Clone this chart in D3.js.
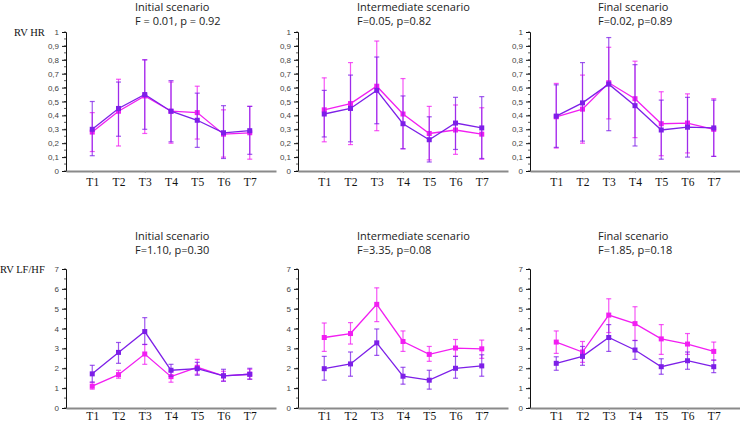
<!DOCTYPE html>
<html>
<head>
<meta charset="utf-8">
<script src="https://cdn.jsdelivr.net/npm/d3@7"></script>
<style>
  body { margin: 0; background: #fff; }
  svg { display: block; }
  .title { font-family: "Open Sans", "Noto Sans", sans-serif; font-size: 11px; fill: #222; }
  .rowlab { font-family: "Liberation Serif", "DejaVu Serif", serif; font-size: 10.5px; fill: #111; }
  .ytick text { font-family: "Liberation Sans", Arial, sans-serif; font-size: 8px; fill: #444; }
  .xtick text { font-family: "Liberation Serif", serif; font-size: 11.5px; fill: #111; }
</style>
</head>
<body>
<div id="chart"></div>
<script>
var width = 740, height = 422;

var times = ["T1", "T2", "T3", "T4", "T5", "T6", "T7"];
var hrTicks = [0, 0.1, 0.2, 0.3, 0.4, 0.5, 0.6, 0.7, 0.8, 0.9, 1];
var lfTicks = [0, 1, 2, 3, 4, 5, 6, 7];

// RV HR - initial
var hrInitPurple     = [0.30, 0.45, 0.55, 0.43, 0.365, 0.275, 0.29];
var hrInitPurpleLo   = [0.11, 0.25, 0.30, 0.21, 0.17, 0.09, 0.12];
var hrInitPurpleHi   = [0.50, 0.64, 0.80, 0.65, 0.56, 0.47, 0.465];
var hrInitMagenta    = [0.28, 0.43, 0.54, 0.43, 0.42, 0.265, 0.275];
var hrInitMagentaLo  = [0.14, 0.18, 0.27, 0.20, 0.23, 0.10, 0.085];
var hrInitMagentaHi  = [0.42, 0.66, 0.80, 0.64, 0.61, 0.44, 0.465];

// RV HR - intermediate
var hrMidPurple      = [0.41, 0.45, 0.58, 0.34, 0.225, 0.345, 0.31];
var hrMidPurpleLo    = [0.245, 0.21, 0.34, 0.16, 0.065, 0.155, 0.09];
var hrMidPurpleHi    = [0.58, 0.69, 0.82, 0.54, 0.39, 0.53, 0.535];
var hrMidMagenta     = [0.44, 0.485, 0.61, 0.41, 0.27, 0.295, 0.265];
var hrMidMagentaLo   = [0.21, 0.19, 0.29, 0.16, 0.08, 0.12, 0.085];
var hrMidMagentaHi   = [0.67, 0.78, 0.935, 0.665, 0.465, 0.475, 0.455];

// RV HR - final
var hrFinPurple      = [0.395, 0.49, 0.625, 0.47, 0.295, 0.315, 0.31];
var hrFinPurpleLo    = [0.17, 0.215, 0.29, 0.18, 0.085, 0.10, 0.105];
var hrFinPurpleHi    = [0.62, 0.78, 0.96, 0.765, 0.51, 0.53, 0.51];
var hrFinMagenta     = [0.39, 0.445, 0.635, 0.52, 0.34, 0.345, 0.30];
var hrFinMagentaLo   = [0.165, 0.20, 0.375, 0.24, 0.11, 0.13, 0.105];
var hrFinMagentaHi   = [0.63, 0.69, 0.89, 0.79, 0.57, 0.555, 0.52];

// RV LF/HF - initial
var lfInitPurple     = [1.72, 2.80, 3.85, 1.90, 1.98, 1.62, 1.70];
var lfInitPurpleLo   = [1.30, 2.25, 3.20, 1.60, 1.65, 1.35, 1.45];
var lfInitPurpleHi   = [2.15, 3.30, 4.55, 2.20, 2.30, 1.95, 2.00];
var lfInitMagenta    = [1.10, 1.68, 2.72, 1.58, 2.05, 1.62, 1.70];
var lfInitMagentaLo  = [0.95, 1.50, 2.20, 1.30, 1.70, 1.35, 1.45];
var lfInitMagentaHi  = [1.30, 1.90, 3.20, 1.85, 2.45, 1.85, 1.95];

// RV LF/HF - intermediate
var lfMidPurple      = [1.98, 2.22, 3.28, 1.60, 1.40, 2.00, 2.12];
var lfMidPurpleLo    = [1.40, 1.60, 2.65, 1.20, 0.95, 1.50, 1.60];
var lfMidPurpleHi    = [2.60, 2.82, 3.98, 2.05, 1.90, 2.60, 2.68];
var lfMidMagenta     = [3.55, 3.75, 5.22, 3.35, 2.70, 3.02, 2.98];
var lfMidMagentaLo   = [2.85, 3.22, 4.35, 2.85, 2.35, 2.60, 2.50];
var lfMidMagentaHi   = [4.28, 4.30, 6.05, 3.88, 3.10, 3.45, 3.42];

// RV LF/HF - final
var lfFinPurple      = [2.25, 2.60, 3.55, 2.92, 2.08, 2.38, 2.08];
var lfFinPurpleLo    = [1.90, 2.15, 2.85, 2.45, 1.70, 1.95, 1.78];
var lfFinPurpleHi    = [2.58, 3.10, 4.20, 3.40, 2.48, 2.82, 2.42];
var lfFinMagenta     = [3.32, 2.82, 4.68, 4.25, 3.48, 3.22, 2.85];
var lfFinMagentaLo   = [2.75, 2.30, 3.80, 3.40, 2.70, 2.70, 2.40];
var lfFinMagentaHi   = [3.88, 3.35, 5.50, 5.10, 4.20, 3.75, 3.32];

var purple = "#7d1fe8", magenta = "#f21ef2";

var svg = d3.select("#chart").append("svg")
    .attr("width", width)
    .attr("height", height);

function fmt(d) { return String(d).replace(".", ","); }

function zip(mean, lo, hi) {
    return mean.map(function(m, i) { return {t: times[i], m: m, lo: lo[i], hi: hi[i]}; });
}

var panels = [
    {x0: 66,  top: 32,  bottom: 171, max: 1, ticks: hrTicks, minor: 0.05, title: "Initial scenario", sub: "F = 0.01, p = 0.92", tx: 135, ty: 11,
     purple: zip(hrInitPurple, hrInitPurpleLo, hrInitPurpleHi), magenta: zip(hrInitMagenta, hrInitMagentaLo, hrInitMagentaHi)},
    {x0: 298, top: 32,  bottom: 171, max: 1, ticks: hrTicks, minor: 0.05, title: "Intermediate scenario", sub: "F=0.05, p=0.82", tx: 357, ty: 11,
     purple: zip(hrMidPurple, hrMidPurpleLo, hrMidPurpleHi), magenta: zip(hrMidMagenta, hrMidMagentaLo, hrMidMagentaHi)},
    {x0: 530, top: 32,  bottom: 171, max: 1, ticks: hrTicks, minor: 0.05, title: "Final scenario", sub: "F=0.02, p=0.89", tx: 598, ty: 11,
     purple: zip(hrFinPurple, hrFinPurpleLo, hrFinPurpleHi), magenta: zip(hrFinMagenta, hrFinMagentaLo, hrFinMagentaHi)},
    {x0: 66,  top: 269, bottom: 408, max: 7, ticks: lfTicks, minor: 0.5, title: "Initial scenario", sub: "F=1.10, p=0.30", tx: 135, ty: 240,
     purple: zip(lfInitPurple, lfInitPurpleLo, lfInitPurpleHi), magenta: zip(lfInitMagenta, lfInitMagentaLo, lfInitMagentaHi)},
    {x0: 298, top: 269, bottom: 408, max: 7, ticks: lfTicks, minor: 0.5, title: "Intermediate scenario", sub: "F=3.35, p=0.08", tx: 357, ty: 240,
     purple: zip(lfMidPurple, lfMidPurpleLo, lfMidPurpleHi), magenta: zip(lfMidMagenta, lfMidMagentaLo, lfMidMagentaHi)},
    {x0: 530, top: 269, bottom: 408, max: 7, ticks: lfTicks, minor: 0.5, title: "Final scenario", sub: "F=1.85, p=0.18", tx: 598, ty: 240,
     purple: zip(lfFinPurple, lfFinPurpleLo, lfFinPurpleHi), magenta: zip(lfFinMagenta, lfFinMagentaLo, lfFinMagentaHi)}
];

// row labels
svg.append("text").attr("class", "rowlab").attr("x", 14).attr("y", 36).text("RV HR");
svg.append("text").attr("class", "rowlab").attr("x", 0).attr("y", 273).text("RV LF/HF");

panels.forEach(function(p) {
    var x = d3.scalePoint().domain(times).range([p.x0, p.x0 + 210]).padding(1);
    var y = d3.scaleLinear().domain([0, p.max]).range([p.bottom, p.top]);

    var g = svg.append("g");

    // titles
    g.append("text").attr("class", "title").attr("x", p.tx).attr("y", p.ty).text(p.title);
    g.append("text").attr("class", "title").attr("x", p.tx).attr("y", p.ty + 14).text(p.sub);

    // minor ticks
    var minors = d3.range(0, p.max + 1e-9, p.minor);
    g.append("g").selectAll("line").data(minors).enter().append("line")
        .attr("x1", p.x0 - 2).attr("x2", p.x0)
        .attr("y1", function(d) { return y(d); })
        .attr("y2", function(d) { return y(d); })
        .attr("stroke", "#333").attr("stroke-width", 0.8);

    // y axis
    var ya = g.append("g").attr("class", "ytick")
        .attr("transform", "translate(" + p.x0 + ",0)")
        .call(d3.axisLeft(y).tickValues(p.ticks).tickSize(4).tickPadding(3).tickFormat(fmt));
    ya.select(".domain").attr("stroke", "#111");
    ya.selectAll(".tick line").attr("stroke", "#111");

    // x axis
    var xa = g.append("g").attr("class", "xtick")
        .attr("transform", "translate(0," + p.bottom + ")")
        .call(d3.axisBottom(x).tickSize(2).tickPadding(p.max > 1 ? 2 : 5).tickSizeOuter(0));
    xa.select(".domain").attr("stroke", "#8a8a8a").attr("stroke-width", 2);
    xa.selectAll(".tick line").attr("stroke", "#999");

    [["magenta", magenta], ["purple", purple]].forEach(function(s) {
        var data = p[s[0]], col = s[1];

        // error bars
        var eb = g.append("g").attr("stroke", col).attr("stroke-opacity", 0.75).attr("stroke-width", 1.2);
        eb.selectAll(".v").data(data).enter().append("line")
            .attr("x1", function(d) { return x(d.t); }).attr("x2", function(d) { return x(d.t); })
            .attr("y1", function(d) { return y(d.lo); }).attr("y2", function(d) { return y(d.hi); });
        eb.selectAll(".lo").data(data).enter().append("line")
            .attr("x1", function(d) { return x(d.t) - 2.5; }).attr("x2", function(d) { return x(d.t) + 2.5; })
            .attr("y1", function(d) { return y(d.lo); }).attr("y2", function(d) { return y(d.lo); });
        eb.selectAll(".hi").data(data).enter().append("line")
            .attr("x1", function(d) { return x(d.t) - 2.5; }).attr("x2", function(d) { return x(d.t) + 2.5; })
            .attr("y1", function(d) { return y(d.hi); }).attr("y2", function(d) { return y(d.hi); });

        var line = d3.line()
            .x(function(d) { return x(d.t); })
            .y(function(d) { return y(d.m); });

        g.append("path")
            .attr("d", line(data))
            .attr("fill", "none")
            .attr("stroke", col)
            .attr("stroke-width", 1.3);

        g.selectAll(".pt").data(data).enter().append("rect")
            .attr("x", function(d) { return x(d.t) - 2.5; })
            .attr("y", function(d) { return y(d.m) - 2.5; })
            .attr("width", 5).attr("height", 5)
            .attr("fill", col);
    });
});
</script>
</body>
</html>
